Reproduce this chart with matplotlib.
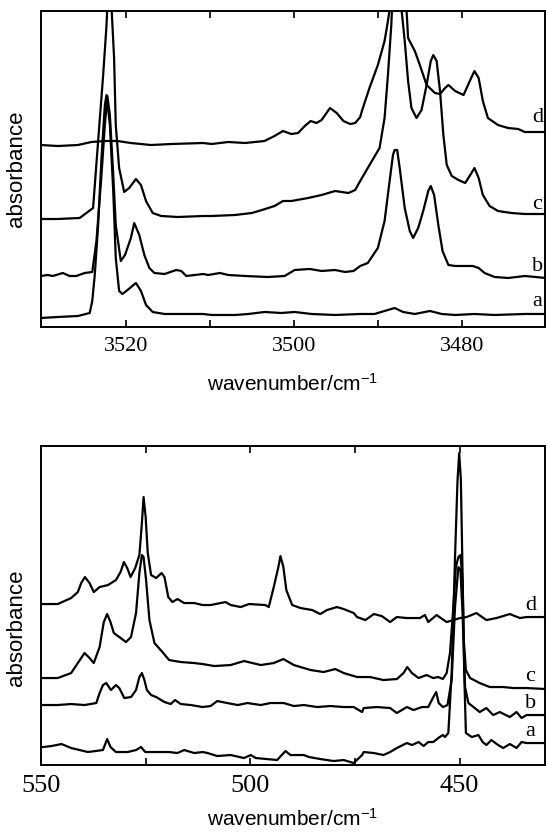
import matplotlib
matplotlib.use('Agg')
import matplotlib.pyplot as plt
from matplotlib.ticker import FixedLocator

plt.rcParams['font.family'] = 'Liberation Sans'
plt.rcParams['mathtext.fontset'] = 'custom'
plt.rcParams['mathtext.rm'] = 'Liberation Sans'
plt.rcParams['mathtext.it'] = 'Liberation Sans:italic'
plt.rcParams['mathtext.bf'] = 'Liberation Sans:bold'

# O-H stretching region, (wavenumber, absorbance in arbitrary units)
OH_A = [(3530.1, 0.09), (3528.1, 0.10), (3525.7, 0.11), (3524.3, 0.14), (3524.0, 0.26), (3523.7, 0.52),
        (3523.3, 1.02), (3522.9, 1.69), (3522.5, 2.22), (3522.3, 2.32), (3521.9, 2.02), (3521.5, 1.36),
        (3521.2, 0.69), (3520.8, 0.36), (3520.4, 0.33), (3519.8, 0.37), (3518.8, 0.44), (3518.2, 0.36),
        (3517.6, 0.22), (3516.8, 0.15), (3515.4, 0.13), (3513.0, 0.13), (3510.8, 0.13), (3509.8, 0.12),
        (3507.0, 0.12), (3505.4, 0.13), (3503.5, 0.15), (3501.5, 0.14), (3499.9, 0.15), (3497.9, 0.13),
        (3495.1, 0.12), (3492.1, 0.13), (3490.4, 0.13), (3489.2, 0.16), (3488.0, 0.19), (3487.0, 0.15),
        (3485.6, 0.13), (3483.8, 0.16), (3482.4, 0.13), (3480.8, 0.12), (3478.5, 0.13), (3476.1, 0.12),
        (3472.5, 0.13), (3470.0, 0.13)]
OH_B = [(3530.1, 0.51), (3529.3, 0.52), (3528.7, 0.51), (3527.5, 0.54), (3526.7, 0.51), (3525.9, 0.51),
        (3524.9, 0.54), (3524.0, 0.55), (3523.5, 0.86), (3522.9, 1.52), (3522.5, 2.02), (3522.2, 2.31),
        (3521.9, 2.12), (3521.5, 1.52), (3521.2, 1.02), (3520.6, 0.66), (3520.1, 0.72), (3519.4, 0.89),
        (3519.0, 1.04), (3518.4, 0.92), (3517.8, 0.72), (3517.2, 0.59), (3516.6, 0.54), (3515.4, 0.53),
        (3514.0, 0.57), (3513.4, 0.56), (3512.8, 0.51), (3510.8, 0.53), (3510.2, 0.52), (3508.8, 0.54),
        (3507.8, 0.52), (3505.8, 0.51), (3503.1, 0.50), (3501.1, 0.51), (3499.9, 0.57), (3498.1, 0.58),
        (3496.7, 0.56), (3495.1, 0.57), (3493.9, 0.55), (3492.9, 0.56), (3492.1, 0.61), (3491.2, 0.64),
        (3490.0, 0.79), (3489.2, 1.06), (3488.6, 1.46), (3488.2, 1.72), (3488.0, 1.77), (3487.7, 1.77),
        (3487.4, 1.59), (3486.8, 1.19), (3486.2, 0.96), (3485.8, 0.89), (3485.2, 0.99), (3484.6, 1.16),
        (3484.0, 1.36), (3483.7, 1.41), (3483.3, 1.32), (3482.8, 1.02), (3482.3, 0.76), (3481.6, 0.62),
        (3480.8, 0.61), (3479.6, 0.61), (3478.7, 0.61), (3478.0, 0.59), (3477.3, 0.54), (3476.1, 0.50),
        (3474.5, 0.49), (3472.5, 0.51), (3470.0, 0.49)]
OH_C = [(3530.1, 1.08), (3528.1, 1.08), (3525.5, 1.09), (3523.9, 1.19), (3523.3, 1.86), (3522.7, 2.52),
        (3522.3, 3.02), (3521.9, 3.80), (3521.7, 3.19), (3521.4, 2.69), (3521.2, 2.02), (3520.8, 1.59),
        (3520.2, 1.35), (3519.6, 1.39), (3518.8, 1.48), (3518.2, 1.42), (3517.6, 1.26), (3516.8, 1.14),
        (3515.8, 1.11), (3513.8, 1.10), (3510.8, 1.11), (3509.8, 1.11), (3507.0, 1.12), (3505.0, 1.14),
        (3503.8, 1.17), (3502.3, 1.21), (3501.3, 1.26), (3500.3, 1.26), (3498.3, 1.29), (3496.7, 1.32),
        (3495.1, 1.36), (3493.5, 1.34), (3492.7, 1.37), (3492.1, 1.46), (3491.2, 1.59), (3489.8, 1.79),
        (3489.2, 2.09), (3488.8, 2.52), (3488.4, 3.02), (3487.8, 4.20), (3487.2, 3.19), (3486.8, 2.86),
        (3486.4, 2.46), (3486.0, 2.19), (3485.4, 2.09), (3484.8, 2.17), (3484.2, 2.42), (3483.7, 2.66),
        (3483.4, 2.72), (3483.0, 2.66), (3482.6, 2.36), (3482.2, 1.92), (3481.8, 1.62), (3481.2, 1.51),
        (3480.4, 1.47), (3479.6, 1.44), (3479.0, 1.52), (3478.5, 1.59), (3478.0, 1.49), (3477.5, 1.32),
        (3476.7, 1.21), (3475.7, 1.16), (3474.1, 1.14), (3472.5, 1.13), (3470.0, 1.13)]
OH_D = [(3530.1, 1.82), (3528.1, 1.81), (3525.7, 1.82), (3524.1, 1.85), (3522.5, 1.86), (3521.0, 1.86),
        (3519.4, 1.84), (3517.0, 1.82), (3514.6, 1.83), (3510.8, 1.84), (3509.8, 1.83), (3507.8, 1.85),
        (3505.8, 1.84), (3503.5, 1.86), (3502.3, 1.91), (3501.3, 1.96), (3500.3, 1.93), (3499.5, 1.94),
        (3498.7, 2.01), (3498.0, 2.06), (3497.3, 2.04), (3496.7, 2.07), (3495.7, 2.19), (3494.9, 2.14),
        (3494.1, 2.06), (3493.3, 2.03), (3492.7, 2.04), (3492.1, 2.10), (3491.9, 2.16), (3491.0, 2.39),
        (3490.0, 2.62), (3489.2, 2.86), (3488.8, 3.06), (3487.7, 3.70), (3486.6, 3.19), (3486.4, 2.89),
        (3485.6, 2.76), (3485.0, 2.62), (3484.2, 2.42), (3483.2, 2.34), (3482.6, 2.33), (3482.0, 2.39),
        (3481.6, 2.42), (3480.8, 2.36), (3479.8, 2.32), (3479.0, 2.47), (3478.5, 2.56), (3478.0, 2.49),
        (3477.5, 2.26), (3476.9, 2.09), (3475.7, 2.02), (3474.5, 1.99), (3473.3, 1.98), (3472.5, 1.95),
        (3470.0, 1.95)]

# low wavenumber region
LOW_A = [(549.5, 0.18), (547.5, 0.19), (545.1, 0.21), (542.8, 0.17), (538.8, 0.13), (535.2, 0.15),
         (534.2, 0.26), (533.4, 0.18), (532.1, 0.13), (529.3, 0.13), (527.3, 0.15), (526.1, 0.18),
         (525.1, 0.13), (522.1, 0.13), (519.4, 0.13), (517.4, 0.12), (515.8, 0.15), (513.4, 0.12),
         (511.4, 0.13), (510.2, 0.12), (507.9, 0.09), (504.7, 0.10), (501.5, 0.07), (499.9, 0.10),
         (498.7, 0.07), (493.6, 0.05), (491.6, 0.14), (490.4, 0.10), (487.2, 0.10), (486.0, 0.08),
         (483.3, 0.06), (480.1, 0.04), (477.7, 0.05), (475.3, 0.02), (473.3, 0.10), (472.9, 0.13),
         (470.5, 0.12), (468.2, 0.10), (466.6, 0.13), (465.0, 0.17), (462.6, 0.22), (461.4, 0.20),
         (459.8, 0.23), (458.6, 0.19), (457.5, 0.23), (456.3, 0.23), (455.1, 0.27), (454.0, 0.30),
         (453.5, 0.28), (452.7, 0.32), (451.9, 0.92), (451.1, 2.08), (450.5, 2.85), (450.1, 3.12),
         (449.7, 2.85), (449.3, 1.92), (448.9, 0.92), (448.5, 0.32), (447.1, 0.28), (445.5, 0.30),
         (444.5, 0.23), (443.6, 0.20), (442.4, 0.25), (440.8, 0.20), (439.6, 0.17), (438.0, 0.21),
         (436.4, 0.17), (435.2, 0.23), (434.0, 0.22), (429.5, 0.22)]
LOW_B = [(549.5, 0.60), (546.0, 0.60), (542.8, 0.61), (539.6, 0.60), (536.8, 0.62), (536.0, 0.72),
         (535.2, 0.80), (534.4, 0.82), (533.3, 0.75), (532.1, 0.80), (531.3, 0.77), (530.1, 0.67),
         (528.5, 0.68), (527.3, 0.75), (526.5, 0.88), (525.9, 0.92), (525.3, 0.85), (524.7, 0.75),
         (523.7, 0.70), (522.5, 0.68), (520.5, 0.63), (519.0, 0.61), (518.0, 0.65), (516.6, 0.61),
         (514.2, 0.60), (511.4, 0.58), (509.5, 0.59), (507.9, 0.64), (505.5, 0.62), (503.0, 0.60),
         (500.7, 0.62), (497.5, 0.60), (495.2, 0.62), (492.0, 0.62), (489.6, 0.59), (487.2, 0.60),
         (484.0, 0.58), (480.9, 0.59), (477.7, 0.58), (475.3, 0.58), (473.3, 0.53), (472.9, 0.57),
         (469.8, 0.58), (466.6, 0.57), (465.0, 0.52), (462.6, 0.58), (461.0, 0.55), (459.0, 0.58),
         (457.5, 0.58), (456.4, 0.67), (455.6, 0.73), (455.0, 0.62), (454.0, 0.58), (452.9, 0.60),
         (451.9, 0.85), (451.1, 1.58), (450.3, 1.98), (449.8, 1.95), (449.3, 1.52), (448.7, 0.78),
         (447.9, 0.62), (446.7, 0.58), (445.2, 0.53), (443.6, 0.57), (442.0, 0.50), (440.4, 0.53),
         (438.0, 0.48), (436.4, 0.53), (435.2, 0.47), (434.0, 0.50), (429.5, 0.50)]
LOW_C = [(549.5, 0.87), (546.0, 0.87), (542.8, 0.92), (541.2, 1.02), (539.6, 1.12), (538.4, 1.07),
         (537.4, 1.02), (536.0, 1.18), (535.0, 1.43), (534.2, 1.51), (533.4, 1.43), (532.6, 1.32),
         (531.3, 1.28), (529.7, 1.23), (528.5, 1.28), (527.3, 1.52), (526.5, 1.92), (525.9, 2.10),
         (525.5, 2.08), (524.9, 1.85), (524.1, 1.45), (522.9, 1.22), (521.0, 1.13), (519.4, 1.05),
         (516.6, 1.03), (513.4, 1.02), (511.4, 1.01), (508.6, 0.99), (504.7, 1.00), (501.5, 1.04),
         (497.5, 1.00), (494.4, 1.02), (492.1, 1.06), (489.6, 1.00), (485.6, 0.95), (482.5, 0.93),
         (479.7, 0.96), (477.7, 0.92), (474.5, 0.88), (471.4, 0.88), (468.2, 0.85), (465.0, 0.86),
         (463.4, 0.92), (462.5, 0.98), (461.4, 0.92), (459.8, 0.87), (457.9, 0.90), (456.3, 0.87),
         (455.1, 0.88), (454.0, 0.86), (453.1, 0.92), (452.3, 1.12), (451.5, 1.58), (450.9, 1.98),
         (450.3, 2.08), (449.8, 2.10), (449.3, 1.85), (449.0, 1.25), (448.5, 0.95), (447.5, 0.87),
         (445.2, 0.82), (442.8, 0.78), (439.6, 0.78), (437.2, 0.77), (434.0, 0.77), (429.5, 0.76)]
LOW_D = [(549.5, 1.61), (546.0, 1.61), (542.8, 1.67), (541.2, 1.73), (540.4, 1.82), (539.5, 1.88),
         (538.4, 1.82), (537.4, 1.73), (536.0, 1.78), (534.0, 1.80), (532.1, 1.85), (531.0, 1.93),
         (530.2, 2.03), (529.4, 1.97), (528.6, 1.88), (527.5, 1.97), (526.5, 2.10), (525.9, 2.42),
         (525.5, 2.68), (525.0, 2.48), (524.5, 2.12), (523.7, 1.90), (522.5, 1.87), (521.2, 1.92),
         (520.5, 1.88), (519.6, 1.68), (518.6, 1.63), (517.4, 1.66), (515.8, 1.62), (513.4, 1.62),
         (511.4, 1.60), (509.5, 1.60), (505.9, 1.63), (504.7, 1.60), (502.3, 1.58), (500.3, 1.61),
         (496.4, 1.60), (495.6, 1.58), (494.4, 1.78), (493.3, 1.98), (492.8, 2.09), (492.1, 1.98),
         (491.4, 1.75), (490.0, 1.60), (488.0, 1.57), (485.2, 1.55), (483.3, 1.51), (481.7, 1.55),
         (479.3, 1.58), (477.7, 1.56), (475.3, 1.52), (474.5, 1.48), (472.5, 1.45), (470.5, 1.51),
         (468.6, 1.49), (466.6, 1.43), (465.0, 1.48), (462.6, 1.47), (459.5, 1.47), (458.3, 1.50),
         (457.5, 1.43), (455.5, 1.50), (453.1, 1.43), (451.5, 1.45), (449.9, 1.47), (448.3, 1.48),
         (446.0, 1.52), (443.6, 1.45), (441.2, 1.47), (438.0, 1.51), (435.6, 1.47), (434.0, 1.48),
         (429.5, 1.48)]

TRACE_NAMES = ['a', 'b', 'c', 'd']
OH_TRACES = [OH_A, OH_B, OH_C, OH_D]
LOW_TRACES = [LOW_A, LOW_B, LOW_C, LOW_D]
OH_LABEL_Y = [0.25, 0.60, 1.23, 2.10]
LOW_LABEL_Y = [0.34, 0.62, 0.89, 1.60]
OH_TICKS = [3520, 3500, 3480]
OH_MINOR = [3510, 3490]
LOW_TICKS = [550, 500, 450]
LOW_MINOR = [525, 475]


def draw_panel(ax, traces, label_y, label_x, xlim, ylim, ticks, minor, ticksize, ylabel_y, xlabel_y):
    for name, trace, ly in zip(TRACE_NAMES, traces, label_y):
        wn = [p[0] for p in trace]
        ab = [p[1] for p in trace]
        ax.plot(wn, ab, color='black', linewidth=1.6, solid_joinstyle='round')
        ax.text(label_x, ly, name, fontfamily='Liberation Serif', fontsize=16,
                ha='center', va='center')
    ax.set_xlim(xlim)
    ax.set_ylim(ylim)
    ax.set_yticks([])
    ax.set_xticks(ticks)
    ax.set_xticklabels([str(t) for t in ticks], fontfamily='Liberation Serif', fontsize=ticksize)
    ax.xaxis.set_minor_locator(FixedLocator(minor))
    ax.tick_params(axis='x', which='both', direction='in', top=True, bottom=True,
                   length=5, width=1.2, pad=7)
    for sp in ax.spines.values():
        sp.set_linewidth(1.4)
    ax.set_ylabel('absorbance', fontsize=16)
    ax.yaxis.set_label_coords(-0.028, ylabel_y)
    ax.set_xlabel('wavenumber/cm$^{-1}$', fontsize=15)
    ax.xaxis.set_label_coords(0.5, xlabel_y)


fig = plt.figure(figsize=(5.46, 8.35), dpi=100)
ax_top = fig.add_axes([0.0751, 0.6084, 0.9231, 0.3784])
ax_bot = fig.add_axes([0.0751, 0.0838, 0.9231, 0.3820])

draw_panel(ax_top, OH_TRACES, OH_LABEL_Y, 3471.0, (3530.1, 3470.1), (0, 3.16),
           OH_TICKS, OH_MINOR, 16, 0.5, -0.145)
draw_panel(ax_bot, LOW_TRACES, LOW_LABEL_Y, 433.1, (549.6, 429.6), (0, 3.19),
           LOW_TICKS, LOW_MINOR, 19, 0.43, -0.135)

fig.savefig('out.png', dpi=100)
